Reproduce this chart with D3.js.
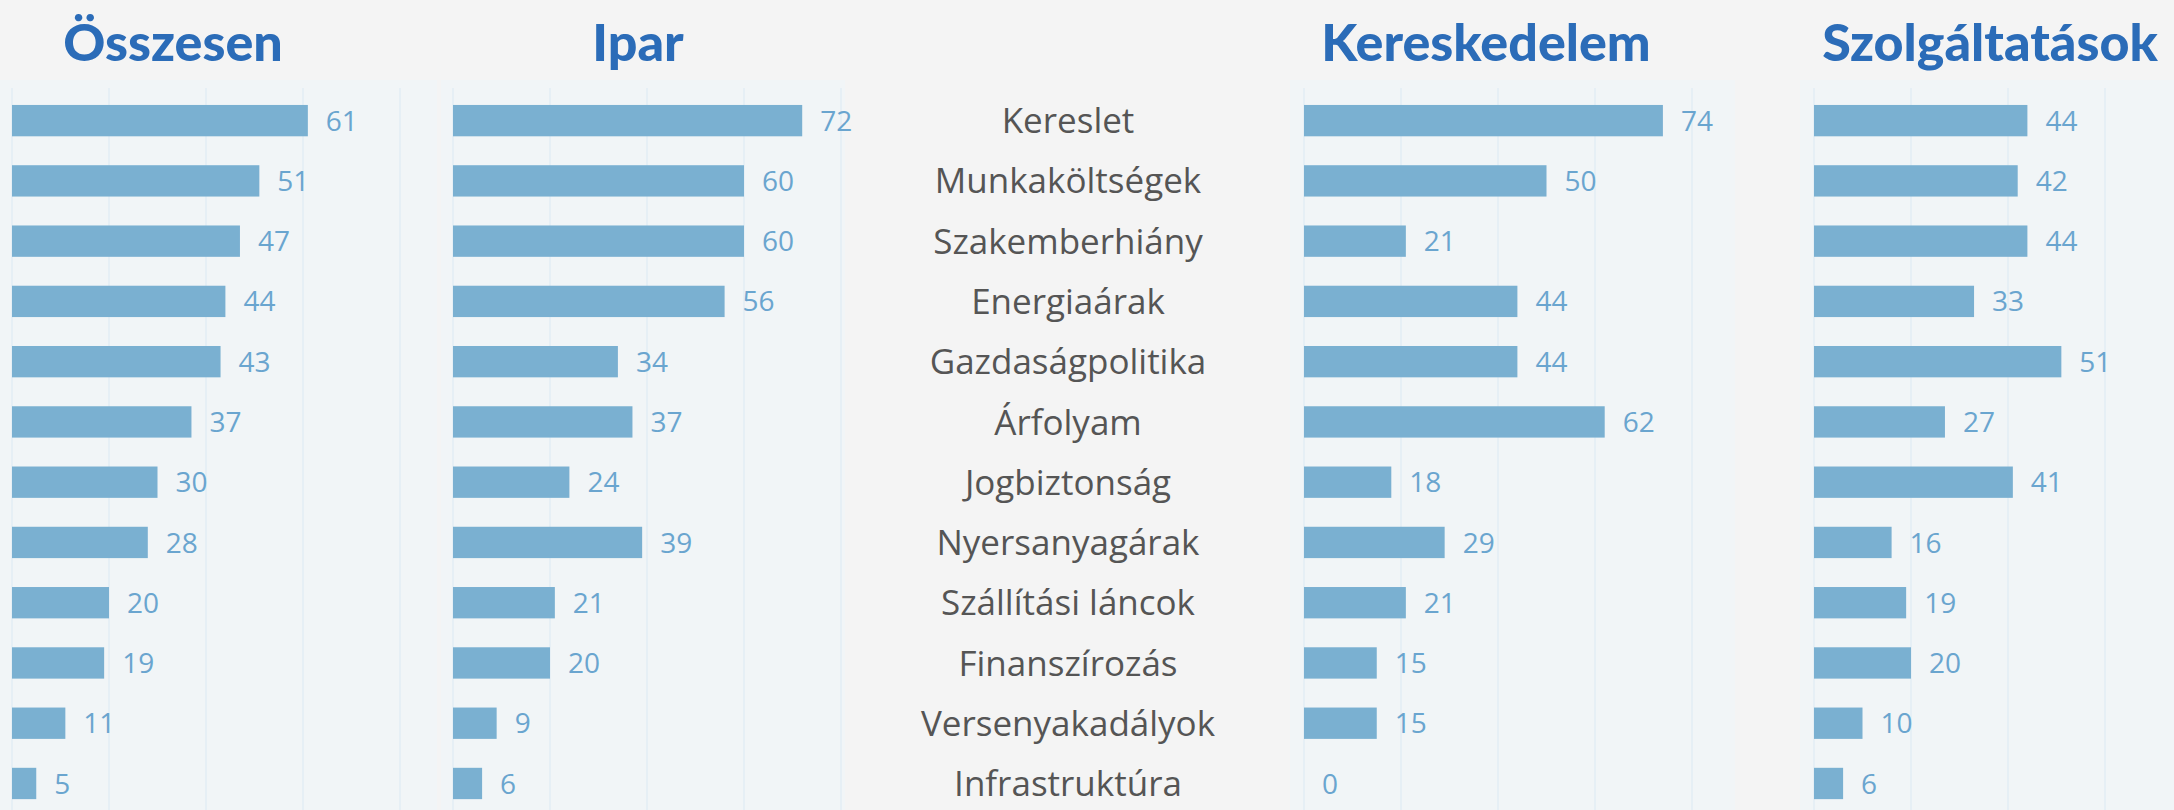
<!DOCTYPE html>
<html>
<head>
<meta charset="utf-8">
<script src="https://cdn.jsdelivr.net/npm/d3@7"></script>
<style>
  html, body { margin: 0; padding: 0; background: #f4f4f4; }
  svg { display: block; }
</style>
</head>
<body>
<svg id="chart" width="2174" height="810"></svg>
<script>
// ---- data ----
const categories = ["Kereslet", "Munkaköltségek", "Szakemberhiány", "Energiaárak", "Gazdaságpolitika", "Árfolyam", "Jogbiztonság", "Nyersanyagárak", "Szállítási láncok", "Finanszírozás", "Versenyakadályok", "Infrastruktúra"];
const osszesen       = [61, 51, 47, 44, 43, 37, 30, 28, 20, 19, 11, 5];
const ipar           = [72, 60, 60, 56, 34, 37, 24, 39, 21, 20, 9, 6];
const kereskedelem   = [74, 50, 21, 44, 44, 62, 18, 29, 21, 15, 15, 0];
const szolgaltatasok = [44, 42, 44, 33, 51, 27, 41, 16, 19, 20, 10, 6];
const panelTitles = ["Összesen", "Ipar", "Kereskedelem", "Szolgáltatások"];
const gridTicks = [0, 20, 40, 60, 80];

// ---- layout ----
const W = 2174, H = 810;
const panels = [
  { title: panelTitles[0], values: osszesen,       x0: 12,   bg: [0, 437],     titleX: 173 },
  { title: panelTitles[1], values: ipar,           x0: 453,  bg: [441, 845],   titleX: 638 },
  { title: panelTitles[2], values: kereskedelem,   x0: 1304, bg: [1290, 1735], titleX: 1486 },
  { title: panelTitles[3], values: szolgaltatasok, x0: 1814, bg: [1800, 2174], titleX: 1990 }
];
const plotWidth = 388;
const labelCenterX = 1068;

const svg = d3.select("#chart");
svg.append("rect").attr("width", W).attr("height", H).attr("fill", "#f4f4f4");

const y = d3.scaleBand()
  .domain(categories)
  .range([90.5, 813.6])
  .paddingInner(0.48)
  .paddingOuter(0.24);

panels.forEach(p => {
  const x = d3.scaleLinear().domain([0, 80]).range([p.x0, p.x0 + plotWidth]);
  const g = svg.append("g");

  g.append("rect")
    .attr("x", p.bg[0]).attr("y", 80)
    .attr("width", p.bg[1] - p.bg[0]).attr("height", H - 80)
    .attr("fill", "#f1f5f7");

  g.append("g").selectAll("line")
    .data(gridTicks)
    .join("line")
    .attr("x1", d => x(d)).attr("x2", d => x(d))
    .attr("y1", 88).attr("y2", H)
    .attr("stroke", "#e2edf5").attr("stroke-width", 1.5);

  const data = categories.map((c, i) => ({ c, v: p.values[i] }));

  g.append("g").selectAll("rect")
    .data(data)
    .join("rect")
    .attr("x", x(0))
    .attr("y", d => y(d.c))
    .attr("width", d => x(d.v) - x(0))
    .attr("height", y.bandwidth())
    .attr("fill", "#7ab0d1");

  g.append("g").selectAll("text")
    .data(data)
    .join("text")
    .attr("x", d => x(d.v) + 18)
    .attr("y", d => y(d.c) + y.bandwidth() / 2)
    .attr("dy", "0.36em")
    .attr("font-family", "'Open Sans', sans-serif")
    .attr("font-size", 28)
    .attr("fill", "#6aa5cf")
    .text(d => d.v);

  svg.append("text")
    .attr("x", p.titleX)
    .attr("y", 61)
    .attr("text-anchor", "middle")
    .attr("font-family", "Lato, sans-serif")
    .attr("font-weight", 900)
    .attr("font-size", 52)
    .attr("fill", "#2b6cb8")
    .text(p.title);
});

svg.append("g").selectAll("text")
  .data(categories)
  .join("text")
  .attr("x", labelCenterX)
  .attr("y", d => y(d) + y.bandwidth() / 2)
  .attr("dy", "0.36em")
  .attr("text-anchor", "middle")
  .attr("font-family", "'Open Sans', sans-serif")
  .attr("font-size", 35)
  .attr("fill", "#555555")
  .text(d => d);
</script>
</body>
</html>
